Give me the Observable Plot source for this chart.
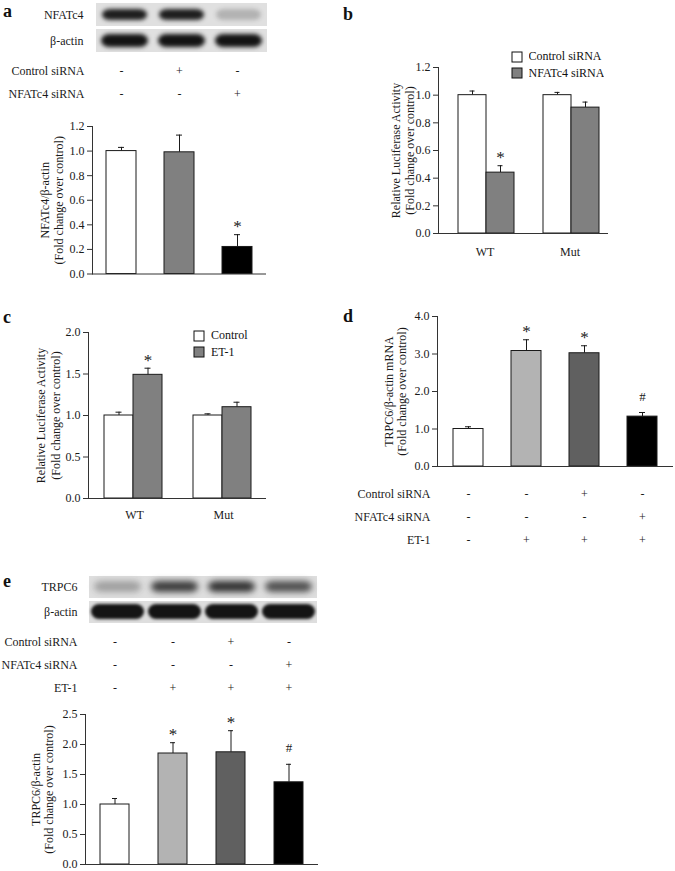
<!DOCTYPE html>
<html><head><meta charset="utf-8">
<script src="https://cdn.jsdelivr.net/npm/d3@7"></script>
<script src="https://cdn.jsdelivr.net/npm/@observablehq/plot@0.6"></script>
<style>
html,body{margin:0;padding:0;background:#fff;}
#fig{position:relative;width:675px;height:871px;overflow:hidden;font-family:"Liberation Serif",serif;}
.abs{position:absolute;}
.letter{position:absolute;font:bold 18px "Liberation Serif",serif;line-height:1;color:#111;}
.lg-swatches{margin:0 !important;font-family:"Liberation Serif",serif !important;font-size:12px !important;width:120px;color:#111;}
.lg-swatch{height:16.5px;padding-bottom:0 !important;}
.lg-swatch svg{margin-right:7px !important;overflow:visible;}
.lg-swatch svg rect{stroke:#111;stroke-width:1;}
</style>
</head><body>
<div id="fig">
  <div class="letter" style="left:3px;top:2px">a</div>
  <div class="letter" style="left:343px;top:5px">b</div>
  <div class="letter" style="left:3px;top:308px">c</div>
  <div class="letter" style="left:343px;top:307px">d</div>
  <div class="letter" style="left:3px;top:572px">e</div>
</div>
<script>
// ---------- Panel a ----------
const lanesA = ["L1", "L2", "L3"];
const blotRowsA = ["NFATc4", "β-actin"];
const blotNfatA = [0.95, 0.95, 0.22];
const blotActinA = [1, 1, 1];
const condRowsA = ["Control siRNA", "NFATc4 siRNA"];
const controlSiA = ["-", "+", "-"];
const nfatSiA = ["-", "-", "+"];
const valuesA = [1.00, 0.99, 0.22];
const errorsA = [0.03, 0.14, 0.10];
const fillsA = ["#ffffff", "#808080", "#000000"];
const marksA = ["", "", "*"];
const yTicksA = [0, 0.2, 0.4, 0.6, 0.8, 1.0, 1.2];
const yLabelA = "NFATc4/β-actin\n(Fold change over control)";

// ---------- Panel b ----------
const groupsB = ["WT", "Mut"];
const seriesB = ["Control siRNA", "NFATc4 siRNA"];
const fillsB = ["#ffffff", "#808080"];
const controlB = [1.00, 1.00];
const controlErrB = [0.03, 0.02];
const nfatB = [0.44, 0.91];
const nfatErrB = [0.05, 0.04];
const controlMarkB = ["", ""];
const nfatMarkB = ["*", ""];
const yTicksB = [0, 0.2, 0.4, 0.6, 0.8, 1.0, 1.2];
const yLabelB = "Relative Luciferase Activity\n(Fold change over control)";

// ---------- Panel c ----------
const groupsC = ["WT", "Mut"];
const seriesC = ["Control", "ET-1"];
const fillsC = ["#ffffff", "#808080"];
const controlC = [1.00, 1.00];
const controlErrC = [0.04, 0.02];
const et1C = [1.49, 1.10];
const et1ErrC = [0.08, 0.06];
const controlMarkC = ["", ""];
const et1MarkC = ["*", ""];
const yTicksC = [0, 0.5, 1.0, 1.5, 2.0];
const yLabelC = "Relative Luciferase Activity\n(Fold change over control)";

// ---------- Panel d ----------
const lanesD = ["L1", "L2", "L3", "L4"];
const valuesD = [1.00, 3.08, 3.02, 1.33];
const errorsD = [0.06, 0.30, 0.20, 0.11];
const fillsD = ["#ffffff", "#b3b3b3", "#606060", "#000000"];
const marksD = ["", "*", "*", "#"];
const yTicksD = [0, 1, 2, 3, 4];
const yLabelD = "TRPC6/β-actin mRNA\n(Fold change over control)";
const condRowsD = ["Control siRNA", "NFATc4 siRNA", "ET-1"];
const controlSiD = ["-", "-", "+", "-"];
const nfatSiD = ["-", "-", "-", "+"];
const et1D = ["-", "+", "+", "+"];

// ---------- Panel e ----------
const lanesE = ["L1", "L2", "L3", "L4"];
const blotRowsE = ["TRPC6", "β-actin"];
const blotTrpc6E = [0.30, 0.80, 0.85, 0.70];
const blotActinE = [1, 1, 1, 1];
const condRowsE = ["Control siRNA", "NFATc4 siRNA", "ET-1"];
const controlSiE = ["-", "-", "+", "-"];
const nfatSiE = ["-", "-", "-", "+"];
const et1E = ["-", "+", "+", "+"];
const valuesE = [1.00, 1.85, 1.87, 1.37];
const errorsE = [0.10, 0.18, 0.36, 0.30];
const fillsE = ["#ffffff", "#b3b3b3", "#606060", "#000000"];
const marksE = ["", "*", "*", "#"];
const yTicksE = [0, 0.5, 1.0, 1.5, 2.0, 2.5];
const yLabelE = "TRPC6/β-actin\n(Fold change over control)";

// ---------- helpers ----------
const FONT = "'Liberation Serif', 'Times New Roman', serif";
const INK = "#1a1a1a";
const AX = "#333333";
const baseStyle = {fontFamily: FONT, fontSize: "12px", background: "transparent", overflow: "visible", color: INK};
const fig = document.getElementById("fig");
function place(node, left, top) {
  const d = document.createElement("div");
  d.className = "abs";
  d.style.left = left + "px";
  d.style.top = top + "px";
  d.appendChild(node);
  fig.appendChild(d);
}
const fmt1 = d => d.toFixed(1);

function blot({lanes, rows, intens, width, height, mL, mR, mT, mB, padY, bands, tickPadding, bg}) {
  const marks = [];
  const all = [];
  rows.forEach((r, j) => lanes.forEach((l, i) => all.push({r, l, o: intens[j][i]})));
  marks.push(Plot.cell(all, {x: "l", y: "r", fill: bg}));
  rows.forEach((r, j) => {
    const b = bands[j];
    marks.push(Plot.cell(all.filter(d => d.r === r), {
      x: "l", y: "r", fill: "#141414", fillOpacity: "o",
      insetLeft: b.ix, insetRight: b.ix, insetTop: b.it, insetBottom: b.ib,
      rx: b.rx, imageFilter: `blur(${b.blur}px)`
    }));
  });
  marks.push(Plot.axisY({tickSize: 0, tickPadding, label: null, fontSize: 12}));
  return Plot.plot({
    width, height, marginLeft: mL, marginRight: mR, marginTop: mT, marginBottom: mB,
    style: baseStyle,
    x: {type: "band", domain: lanes, padding: 0, axis: null},
    y: {type: "band", domain: rows, paddingInner: padY, paddingOuter: 0},
    opacity: {type: "linear", domain: [0, 1], range: [0, 1]},
    marks
  });
}

function signTable({lanes, rows, signs, width, height, mL, mR, mT, mB, pi, po, tickPadding}) {
  const data = [];
  rows.forEach((r, j) => lanes.forEach((l, i) => data.push({r, l, s: signs[j][i]})));
  return Plot.plot({
    width, height, marginLeft: mL, marginRight: mR, marginTop: mT, marginBottom: mB,
    style: baseStyle,
    x: {type: "band", domain: lanes, paddingInner: pi, paddingOuter: po, axis: null},
    y: {type: "point", domain: rows, padding: 0},
    marks: [
      Plot.text(data, {x: "l", y: "r", text: "s", fontSize: 12, fill: INK}),
      Plot.axisY({tickSize: 0, tickPadding, label: null, fontSize: 12})
    ]
  });
}

function annotationMarks(data, extra) {
  return [
    Plot.text(data.filter(d => d.m === "*"), {...extra, y: "e", text: "m", fontSize: 17, dy: -8, fill: INK}),
    Plot.text(data.filter(d => d.m === "#"), {...extra, y: "e", text: "m", fontSize: 13, dy: -16, fill: INK})
  ];
}

function barPanel({lanes, values, errors, fills, marks, yDomain, yTicks, yLabel, width, height, mL, mR, mT, mB, pi, po, labelDx, cap}) {
  const data = lanes.map((k, i) => ({k, v: values[i], e: values[i] + errors[i], f: fills[i], m: marks[i]}));
  return Plot.plot({
    width, height, marginLeft: mL, marginRight: mR, marginTop: mT, marginBottom: mB,
    style: baseStyle,
    x: {type: "band", domain: lanes, paddingInner: pi, paddingOuter: po, axis: null},
    y: {domain: yDomain},
    color: {type: "identity"},
    marks: [
      Plot.ruleX(data, {x: "k", y1: "v", y2: "e", stroke: INK, strokeWidth: 1}),
      Plot.tickY(data, {x: "k", y: "e", stroke: INK, strokeWidth: 1, inset: cap}),
      Plot.barY(data, {x: "k", y: "v", fill: "f", stroke: INK, strokeWidth: 1}),
      ...annotationMarks(data, {x: "k"}),
      Plot.ruleY([0], {stroke: AX}),
      Plot.axisY({ticks: yTicks, tickFormat: fmt1, tickSize: 5, tickPadding: 3, label: null, stroke: AX, fontSize: 12}),
      Plot.frame({anchor: "left", stroke: AX}),
      Plot.text([yLabel], {frameAnchor: "left", textAnchor: "middle", rotate: -90, dx: labelDx, lineHeight: 1.15, fontSize: 12, fill: INK})
    ]
  });
}

function groupedPanel({groups, series, fills, vals, errs, mks, yDomain, yTicks, yLabel, width, height, mL, mR, mT, mB, po, align, fxPad, fxDx, labelDx, cap}) {
  const data = [];
  series.forEach((s, j) => groups.forEach((g, i) => data.push({g, s, v: vals[j][i], e: vals[j][i] + errs[j][i], m: mks[j][i]})));
  return Plot.plot({
    width, height, marginLeft: mL, marginRight: mR, marginTop: mT, marginBottom: mB,
    style: baseStyle,
    fx: {domain: groups, padding: 0, label: null},
    x: {domain: series, paddingInner: 0, paddingOuter: po, align, axis: null},
    y: {domain: yDomain},
    color: {domain: series, range: fills},
    marks: [
      Plot.ruleX(data, {fx: "g", x: "s", y1: "v", y2: "e", stroke: INK, strokeWidth: 1}),
      Plot.tickY(data, {fx: "g", x: "s", y: "e", stroke: INK, strokeWidth: 1, inset: cap}),
      Plot.barY(data, {fx: "g", x: "s", y: "v", fill: "s", stroke: INK, strokeWidth: 1}),
      ...annotationMarks(data, {fx: "g", x: "s"}),
      Plot.ruleY([0], {stroke: AX}),
      Plot.axisFx({anchor: "bottom", tickSize: 0, tickPadding: fxPad, dx: fxDx, label: null, fontSize: 12}),
      Plot.axisY({ticks: yTicks, tickFormat: fmt1, tickSize: 5, tickPadding: 3, label: null, stroke: AX, fontSize: 12}),
      Plot.frame({anchor: "left", stroke: AX, facetAnchor: "left"}),
      Plot.text([yLabel], {frameAnchor: "left", textAnchor: "middle", rotate: -90, dx: labelDx, lineHeight: 1.2, fontSize: 12, fill: INK, facetAnchor: "left"})
    ]
  });
}

function legend(series, fills) {
  return Plot.legend({color: {domain: series, range: fills}, legend: "swatches", columns: 1, swatchSize: 10, className: "lg"});
}

// ---------- render panel a ----------
place(blot({lanes: lanesA, rows: blotRowsA, intens: [blotNfatA, blotActinA], width: 280, height: 56,
  mL: 95, mR: 13, mT: 2, mB: 4, padY: 0.12, tickPadding: 12, bg: "#e0e0e0",
  bands: [{ix: 6, it: 6, ib: 6, rx: 8, blur: 2.2}, {ix: 5, it: 5, ib: 5, rx: 8, blur: 2}]}), 0, 0);
place(signTable({lanes: lanesA, rows: condRowsA, signs: [controlSiA, nfatSiA], width: 280, height: 50,
  mL: 92, mR: 14, mT: 13, mB: 14, pi: 0.48, po: 0.24, tickPadding: 8}), 0, 58);
place(barPanel({lanes: lanesA, values: valuesA, errors: errorsA, fills: fillsA, marks: marksA,
  yDomain: [0, 1.2], yTicks: yTicksA, yLabel: yLabelA, width: 280, height: 170,
  mL: 92, mR: 14, mT: 16, mB: 6.5, pi: 0.48, po: 0.24, labelDx: -41, cap: 12}), 0, 110);

// ---------- render panel b ----------
place(groupedPanel({groups: groupsB, series: seriesB, fills: fillsB,
  vals: [controlB, nfatB], errs: [controlErrB, nfatErrB], mks: [controlMarkB, nfatMarkB],
  yDomain: [0, 1.2], yTicks: yTicksB, yLabel: yLabelB, width: 335, height: 225,
  mL: 97, mR: 67, mT: 27, mB: 32, po: 0.474, align: 0.69, fxPad: 14, fxDx: 4, labelDx: -36, cap: 11.5}), 340, 40);
place(legend(seriesB, fillsB), 511.5, 48.5);

// ---------- render panel c ----------
place(groupedPanel({groups: groupsC, series: seriesC, fills: fillsC,
  vals: [controlC, et1C], errs: [controlErrC, et1ErrC], mks: [controlMarkC, et1MarkC],
  yDomain: [0, 2.0], yTicks: yTicksC, yLabel: yLabelC, width: 340, height: 230,
  mL: 88, mR: 74, mT: 32, mB: 32, po: 0.534, align: 0.5, fxPad: 12, fxDx: 1.5, labelDx: -40.5, cap: 11.5}), 0, 300);
place(legend(seriesC, fillsC), 194, 327.5);

// ---------- render panel d ----------
place(barPanel({lanes: lanesD, values: valuesD, errors: errorsD, fills: fillsD, marks: marksD,
  yDomain: [0, 4], yTicks: yTicksD, yLabel: yLabelD, width: 335, height: 180,
  mL: 97, mR: 2, mT: 16, mB: 14, pi: 0.486, po: 0.264, labelDx: -42.5, cap: 12}), 340, 300);
place(signTable({lanes: lanesD, rows: condRowsD, signs: [controlSiD, nfatSiD, et1D], width: 335, height: 75,
  mL: 97, mR: 2, mT: 13.3, mB: 15, pi: 0.486, po: 0.264, tickPadding: 7}), 340, 480);

// ---------- render panel e ----------
place(blot({lanes: lanesE, rows: blotRowsE, intens: [blotTrpc6E, blotActinE], width: 330, height: 58,
  mL: 88, mR: 13, mT: 5, mB: 5, padY: 0.125, tickPadding: 11, bg: "#dedede",
  bands: [{ix: 5, it: 5, ib: 6, rx: 8, blur: 3}, {ix: 2, it: 3, ib: 4, rx: 8, blur: 1.8}]}), 0, 570);
place(signTable({lanes: lanesE, rows: condRowsE, signs: [controlSiE, nfatSiE, et1E], width: 330, height: 70,
  mL: 85, mR: 12, mT: 12, mB: 12, pi: 0.497, po: 0.233, tickPadding: 8}), 0, 630);
place(barPanel({lanes: lanesE, values: valuesE, errors: errorsE, fills: fillsE, marks: marksE,
  yDomain: [0, 2.5], yTicks: yTicksE, yLabel: yLabelE, width: 330, height: 171,
  mL: 85, mR: 12, mT: 14, mB: 7, pi: 0.497, po: 0.233, labelDx: -43.5, cap: 12}), 0, 700);
</script>
</body></html>
